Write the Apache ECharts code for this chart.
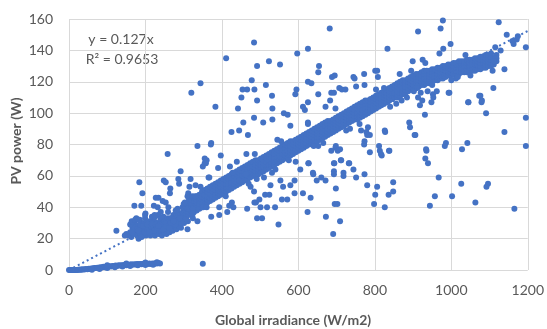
<!DOCTYPE html>
<html lang="en">
<head>
	<meta charset="UTF-8">
	<title>PV power vs irradiance</title>
	<script src="https://cdn.jsdelivr.net/npm/echarts@6/dist/echarts.min.js"></script>
</head>
<style>
	html, body { margin: 0; padding: 0; background: #fff; }
	#main { width: 547px; height: 329px; }
</style>
<body>
	<div id="main"></div>
	<script>
	// trendline from the chart label
	var trendSlope = 0.127;
	var trendText = ['y = 0.127x', 'R\u00b2 = 0.9653'];
	var xTicks = { min: 0, max: 1200, step: 200 };
	var yTicks = { min: 0, max: 160, step: 20 };

	// low band near zero (inverter start-up)
	var lowBand = [
		[0,0],[3,0],[6,0],[9,0],[12,0],[15,0],[18,0],[21,0],[24,0.2],[27,0.1],[30,0.3],[33,0.2],
		[36,0.4],[40,0.3],[44,0.6],[48,0.5],[52,0.8],[55,0.6],[58,1.0],[62,0.9],[66,1.3],[70,1.2],
		[74,1.5],[78,1.4],[82,1.8],[86,1.6],[90,2.0],[94,1.8],[98,2.2],[102,2.0],[106,2.4],[110,2.3],
		[114,2.6],[118,2.5],[122,2.8],[126,2.6],[130,3.0],[134,2.8],[138,3.1],[142,3.0],[146,3.3],
		[150,3.1],[154,3.4],[158,3.2],[162,3.6],[166,3.4],[170,3.7],[174,3.5],[178,3.8],[182,3.6],
		[186,3.9],[190,3.7],[194,4.0],[198,3.8],[202,4.0],[206,3.9],[210,4.1],[214,3.9],[218,4.2],
		[222,4.0],[226,4.3],[230,4.1],[234,4.4],[238,4.2],
		[60,0.2],[80,0.6],[100,1.2],[120,1.8],[140,2.2],[160,2.6],[180,3.0],[200,3.2],[220,3.4],
		[100,3.0],[150,4.2],[200,4.8],[230,5.0]
	];

	// dense cluster at 150-310 W/m2
	var cluster = [
		[156,22],[160,24],[163,21],[166,27],[169,23],[172,30],[175,25],[178,22],[180,28],[183,24],
		[185,32],[187,22],[190,26],[192,30],[194,23],[197,27],[199,33],[201,22],[203,25],[205,29],
		[207,23],[209,27],[211,31],[213,22],[215,25],[217,34],[219,23],[221,28],[223,31],[225,22],
		[227,26],[229,24],[231,30],[233,35],[235,23],[237,27],[239,32],[241,25],[243,22],[245,29],
		[247,34],[249,24],[251,27],[253,31],[255,23],[257,26],[259,37],[261,29],[263,24],[265,33],
		[267,27],[269,30],[271,25],[273,35],[275,28],[277,32],[279,38],[281,26],[283,30],[285,34],
		[287,28],[289,36],[291,31],[293,27],[295,33],[297,40],[299,35],[301,30],[303,37],[305,33],
		[307,41],[309,36],[311,31],
		[182,20],[190,21],[198,24],[206,26],[214,28],[222,25],[230,27],[238,29],[246,26],[254,28],
		[262,27],[270,33],[278,29],[286,31],[294,30],[302,34],[170,27],[178,26],[186,29],[194,28],
		[202,30],[210,24],[218,30],[226,29],[234,28],[242,33],[250,31],[258,33],[266,30],[274,31],
		[282,35],[290,33],[298,37],[306,38],[160,29],[176,33],[200,36],[240,37],[260,40],[284,39],
		[300,42],[150,23],[146,22]
	];

	// main band: irradiance, then the powers read across the band at that irradiance
	var bandRows = [
		[306,33,36,38,40,42],[313,35,37,39,41,44],[320,36,38,41,43,45],[327,37,39,41,44,46],
		[334,38,40,43,45,47],[341,39,42,44,46,48],[348,40,43,45,47,50],[355,42,44,46,48,51],
		[362,43,45,47,50,52],[369,44,46,49,51,53],[376,45,47,50,52,54],[383,46,48,51,53,55],
		[390,47,49,52,54,56],[397,48,50,53,55,57],[404,49,51,54,56,58],[411,50,52,55,57,59],
		[418,51,53,55,58,60],[425,52,54,56,59,61],[432,53,55,57,60,62],[439,54,56,58,61,63],
		[446,55,57,59,62,64],[453,56,58,60,63,65],[460,57,59,61,63,66],[467,58,60,62,64,67],
		[474,59,61,63,65,68],[481,60,62,64,66,69],[488,61,63,65,67,70],[495,61,64,66,68,70],
		[502,62,65,67,69,71],[509,63,66,68,70,72],[516,64,67,69,71,73],[523,65,67,70,72,74],
		[530,66,68,71,73,75],[537,67,69,72,74,76],[544,68,70,72,75,77],[551,69,71,73,76,78],
		[558,70,72,74,77,79],[565,71,73,75,78,80],[572,72,74,76,79,81],[579,73,75,77,79,82],
		[586,74,76,78,80,82],[593,75,77,79,81,83],[600,76,78,80,82,84],[607,77,79,81,83,85],
		[614,78,80,82,84,86],[621,79,81,83,85,87],[628,80,82,84,86,88],[635,81,83,85,87,89],
		[642,82,84,86,88,90],[649,82,85,87,89,91],[656,83,85,87,90,92],[663,84,86,88,91,93],
		[670,85,87,89,92,94],[677,86,88,90,93,95],[684,87,89,91,93,95],[691,88,90,92,94,96],
		[698,89,91,93,95,97],[705,90,92,94,96,98],[712,91,93,95,97,99],[719,92,94,96,98,100],
		[726,93,95,97,99,101],[733,94,96,98,100,102],[740,95,97,99,101,103],[747,96,98,100,102,104],
		[754,96,98,100,103,105],[761,97,99,101,104,106],[768,98,100,102,105,107],[775,99,101,103,106,108],
		[782,100,102,104,106,108],[789,101,103,105,107,109],[796,102,104,106,108,110],[803,103,105,107,109,111],
		[810,104,106,108,110,112],[817,105,107,109,111,113],[824,106,108,110,112,114],[831,107,109,111,113,115],
		[838,108,110,112,114,116],[845,109,111,113,115,117],[852,110,112,113,116,118],[859,110,112,114,117,119],
		[866,111,113,115,118,120],[873,112,114,116,119,121],[880,113,115,117,119,121],[887,114,116,118,120,122],
		[894,115,117,119,121,123],[901,116,118,120,122,124],[908,116,119,121,123,125],[915,117,119,121,123,125],
		[922,118,120,122,124,126],[929,118,120,122,125,127],[936,119,121,123,125,127],[943,119,121,123,125,127],
		[950,120,122,124,126,128],[957,121,123,125,127,128],[964,121,123,125,127,129],[971,122,124,126,128,129],
		[978,122,124,126,128,130],[985,123,125,127,129,130],[992,124,126,127,129,131],[999,124,126,128,130,131],
		[1006,125,127,128,130,132],[1013,125,127,129,131,132],[1020,125,127,129,131,133],[1027,126,128,129,131,133],
		[1034,126,128,130,132,133],[1041,126,128,130,132,134],[1048,127,129,130,132,134],[1055,127,129,131,133,134],
		[1062,127,129,131,133,135],[1069,128,130,131,133,135],[1076,128,130,132,134,136],[1083,129,131,132,134,136],
		[1090,129,131,133,135,137],[1097,130,132,133,135,137],[1104,130,132,134,136,138],[1111,131,133,135],
		[1118,133,135,137]
	];

	// scattered points off the band
	var outliers = [
		[484,145],[411,135],[523,133],[492,130],[552,131],[597,138],[344,119],[320,113],[478,121],
		[515,118],[454,115],[466,115],[485,115],[451,110],[492,108],[531,111],[595,115],[592,112],
		[383,104],[442,103],[532,103],[562,100],[572,99],[484,97],[456,94],[508,94],[532,96],[579,92],
		[425,88],[445,89],[468,86],[372,81],[545,83],[555,82],
		[682,154],[625,141],[833,141],[654,130],[652,126],[625,120],[634,119],[688,123],[695,124],
		[744,123],[747,122],[772,125],[801,127],[806,127],[808,123],[865,125],[895,127],[707,116],
		[714,115],[723,115],[751,117],[773,118],[803,115],[824,116],[686,113],[693,113],[652,112],
		[683,108],[625,107],[612,104],[617,102],[671,104],[697,103],[625,94],[625,93],[764,89],
		[782,91],[780,86],[787,86],[773,82],[827,88],[890,94],[892,91],
		[978,159],[913,152],[972,154],[1124,158],[1145,150],[1160,146],[1171,147],[1174,149],
		[1195,142],[998,144],[979,141],[969,138],[1129,140],[1115,135],[1111,133],[1037,137],
		[1012,122],[995,113],[962,114],[938,114],[920,113],[913,110],[924,108],[918,105],[952,112],
		[953,110],[948,107],[1110,116],[1073,111],[1044,107],[1079,107],[1091,100],[931,99],
		[1195,97],[1139,88],[906,86],[986,81],[1042,81],
		[934,77],[983,79],[1028,77],[1195,79],[932,71],[939,68],[967,59],[1026,55],[1096,55],
		[1092,53],[957,47],[1002,47],[1063,43],[944,41],[1165,39],
		[652,79],[686,76],[697,78],[709,77],[772,80],[787,75],[811,79],[813,76],[818,73],[838,76],
		[627,68],[605,64],[638,62],[639,61],[648,57],[660,59],[671,57],[693,68],[693,63],[693,61],
		[711,70],[718,62],[718,60],[733,68],[744,64],[751,59],[773,61],[780,54],[806,53],[801,48],
		[836,48],[848,56],[848,50],[612,49],[632,46],[698,52],[695,42],[702,42],[798,42],[826,40],
		[624,37],[672,34],[709,31],[691,23],
		[336,79],[371,80],[360,70],[355,68],[350,66],[390,65],[397,73],[365,59],[318,58],[331,54],
		[344,53],[312,49],[310,47],[351,40],[372,34],[393,40],[393,35],[414,37],[419,41],[426,43],
		[430,40],[466,39],[485,43],[501,40],[505,33],[518,40],[539,40],[548,29],[557,45],[571,45],
		[579,54],[527,54],[513,48],[524,48],[553,57],[560,53],[491,58],[510,59],[531,62],[484,50],
		[475,53],[336,31],[310,26],[350,4],[324,33],
		[258,74],[292,63],[286,58],[288,55],[265,52],[264,49],[248,57],[253,56],[184,56],[192,49],
		[234,46],[227,46],[222,41],[232,40],[245,44],[253,43],[171,41],[189,41],[199,35],[225,34],
		[124,25],[164,31],[173,32],[182,32],[164,24],[182,25],[205,29],[217,29],
		[1163,144],[1115,142],[899,133],[925,134],[932,132],[1017,123],[1139,128],[1108,127],
		[993,113],[1045,107],[1076,111],[1080,108],[935,76],[904,86],[826,89],[837,76],[816,74],
		[725,89],[778,88],[698,79],[703,76],[694,68],[712,70],[732,68],[626,68],[593,69],[590,49],
		[590,57],[224,35],[303,43],[311,39],[324,39],[324,36],[315,53],[323,47],[330,47],[489,43],
		[498,45],[492,33],[445,57],[463,61],[428,62],[367,59],[421,66],[439,69],[464,74],[486,74],
		[355,71],[358,68],
		[870,108],[884,110],[902,114],[911,116],[856,106],[840,104],[760,93],[735,90],[665,81],
		[640,79],[575,70],[540,64],[470,55],[410,47],[360,40],[950,118],[1000,121],[1050,124]
	];

	var band = [];
	bandRows.forEach(function (row) {
		for (var k = 1; k < row.length; k++) {
			band.push([row[0], row[k]]);
		}
	});
	var points = [].concat(lowBand, cluster, band, outliers);

	var gray = '#595959';
	var blue = '#4472C4';
	var font = 'Lato, "Open Sans", sans-serif';

	var myChart = echarts.init(document.getElementById('main'));
	var option = {
		animation: false,
		grid: { left: 69, top: 19, width: 460, height: 251 },
		xAxis: {
			type: 'value',
			min: xTicks.min, max: xTicks.max, interval: xTicks.step,
			axisLine: { show: false },
			axisTick: { show: false },
			axisLabel: {
				color: gray, fontSize: 14, fontFamily: font, margin: 13,
				formatter: function (v) { return String(v); }
			},
			splitLine: { lineStyle: { color: '#d9d9d9', width: 1 } }
		},
		yAxis: {
			type: 'value',
			min: yTicks.min, max: yTicks.max, interval: yTicks.step,
			axisLine: { show: false },
			axisTick: { show: false },
			axisLabel: { color: gray, fontSize: 14, fontFamily: font, margin: 16 },
			splitLine: { lineStyle: { color: '#d9d9d9', width: 1 } }
		},
		graphic: [
			{ type: 'text', x: 121, y: 39, style: { text: trendText[0], fill: gray, fontSize: 14, fontFamily: font, textAlign: 'center', textVerticalAlign: 'middle' } },
			{ type: 'text', x: 122, y: 59, style: { text: trendText[1], fill: gray, fontSize: 14, fontFamily: font, textAlign: 'center', textVerticalAlign: 'middle' } },
			{ type: 'text', x: 293, y: 320, style: { text: 'Global irradiance (W/m2)', fill: gray, fontSize: 14, fontWeight: 'bold', fontFamily: font, textAlign: 'center', textVerticalAlign: 'middle' } },
			{ type: 'text', x: 16, y: 141, rotation: Math.PI / 2, style: { text: 'PV power (W)', fill: gray, fontSize: 14, fontWeight: 'bold', fontFamily: font, textAlign: 'center', textVerticalAlign: 'middle' } }
		],
		series: [
			{
				type: 'scatter',
				data: points,
				symbolSize: 6,
				itemStyle: { color: blue, opacity: 1 },
				z: 2
			},
			{
				type: 'line',
				data: [[xTicks.min, 0], [xTicks.max, xTicks.max * trendSlope]],
				symbol: 'none',
				lineStyle: { color: blue, width: 2, type: [2, 3] },
				z: 3
			}
		]
	};
	myChart.setOption(option);
	</script>
</body>
</html>
